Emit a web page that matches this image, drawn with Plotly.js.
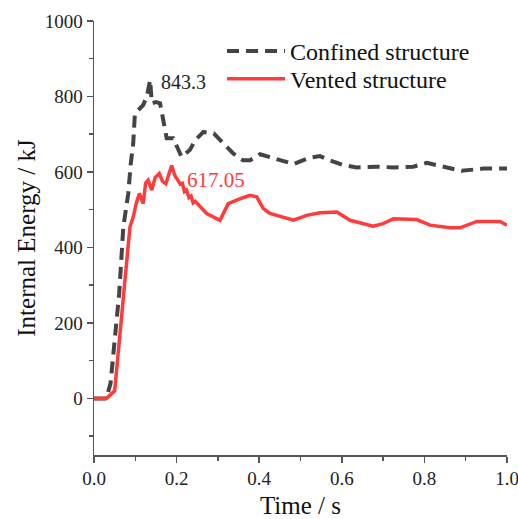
<!DOCTYPE html>
<html><head><meta charset="utf-8">
<script src="https://cdn.plot.ly/plotly-3.0.1.min.js"></script>
<style>body{margin:0;background:#fff}#c{width:518px;height:519px}</style>
</head><body><div id="c"></div>
<script>
const confinedT = [0, 0.03, 0.04, 0.051, 0.061, 0.071, 0.083, 0.089, 0.095, 0.099, 0.107, 0.119, 0.128, 0.136, 0.14, 0.15, 0.16, 0.168, 0.176, 0.192, 0.204, 0.212, 0.232, 0.245, 0.265, 0.29, 0.313, 0.337, 0.361, 0.378, 0.402, 0.442, 0.483, 0.523, 0.547, 0.571, 0.604, 0.636, 0.684, 0.725, 0.773, 0.806, 0.846, 0.89, 0.943, 1.0];
const confinedE = [0, 0, 40, 172, 278, 454, 543, 622, 676, 755, 764, 777, 800, 843.3, 782, 785, 782, 729, 689, 689, 658, 640, 658, 684, 706, 702, 676, 649, 631, 631, 647, 633, 621, 638, 642, 631, 618, 612, 614, 612, 614, 624, 615, 603, 609, 609];
const ventedT = [0, 0.03, 0.05, 0.061, 0.071, 0.087, 0.095, 0.103, 0.11, 0.119, 0.125, 0.131, 0.14, 0.148, 0.158, 0.166, 0.174, 0.181, 0.188, 0.196, 0.204, 0.209, 0.214, 0.219, 0.224, 0.23, 0.235, 0.24, 0.245, 0.26, 0.273, 0.305, 0.325, 0.354, 0.378, 0.394, 0.41, 0.426, 0.458, 0.483, 0.515, 0.547, 0.588, 0.62, 0.676, 0.70, 0.725, 0.781, 0.814, 0.862, 0.886, 0.927, 0.983, 1.0];
const ventedE = [0, 0, 20, 154, 278, 454, 481, 520, 543, 516, 570, 578, 552, 585, 596, 575, 569, 595, 617.05, 590, 575, 568, 570, 548, 552, 532, 536, 518, 522, 505, 490, 472, 516, 529, 538, 534, 503, 490, 481, 472, 485, 492, 494, 472, 456, 463, 476, 474, 459, 452, 452, 469, 469, 459];
const peakLabels = ["843.3", "617.05"];

const serif = "Liberation Serif, Times New Roman, serif";
const traces = [
  {x: confinedT, y: confinedE, mode: 'lines', name: 'Confined structure', legend: 'legend',
   line: {color: '#444444', width: 4, dash: '12px,7px'}},
  {x: ventedT, y: ventedE, mode: 'lines', name: 'Vented structure', legend: 'legend2',
   line: {color: '#ff3b3b', width: 3.5}}
];
const axisCommon = {showline: true, linecolor: '#555', linewidth: 1.5, ticks: 'outside',
  ticklen: 6, tickwidth: 1.5, tickcolor: '#555', showgrid: false, zeroline: false, mirror: false,
  tickfont: {family: serif, size: 19, color: '#222'}};
const legendCommon = {x: 0.31, xanchor: 'left', yanchor: 'middle', bgcolor: 'rgba(0,0,0,0)',
  font: {family: serif, size: 24, color: '#111'}, itemwidth: 58};
const layout = {
  width: 518, height: 519,
  margin: {l: 94, r: 11, t: 21, b: 64},
  paper_bgcolor: '#fff', plot_bgcolor: '#fff',
  showlegend: true,
  legend: Object.assign({}, legendCommon, {y: 0.93}),
  legend2: Object.assign({}, legendCommon, {y: 0.866}),
  xaxis: Object.assign({}, axisCommon, {range: [0, 1], dtick: 0.2, tickformat: '.1f',
    ticklabeloverflow: 'allow',
    minor: {dtick: 0.1, ticks: 'outside', ticklen: 4, tickcolor: '#555', tickwidth: 1.5},
    title: {text: 'Time / s', font: {family: serif, size: 25, color: '#111'}, standoff: 10}}),
  yaxis: Object.assign({}, axisCommon, {range: [-150, 1000], dtick: 200,
    minor: {dtick: 100, ticks: 'outside', ticklen: 4, tickcolor: '#555', tickwidth: 1.5},
    title: {text: 'Internal Energy / kJ', font: {family: serif, size: 25, color: '#111'}, standoff: 2}}),
  annotations: [
    {x: confinedT[13], y: confinedE[13], text: peakLabels[0], showarrow: false,
     xanchor: 'left', yanchor: 'middle', xshift: 9, yshift: -2,
     font: {family: serif, size: 20, color: '#222'}},
    {x: ventedT[18], y: ventedE[18], text: peakLabels[1], showarrow: false,
     xanchor: 'left', yanchor: 'middle', xshift: 13, yshift: -14,
     font: {family: serif, size: 21, color: '#ff3b3b'}}
  ]
};
Plotly.newPlot('c', traces, layout, {displayModeBar: false, staticPlot: true});
</script></body></html>
